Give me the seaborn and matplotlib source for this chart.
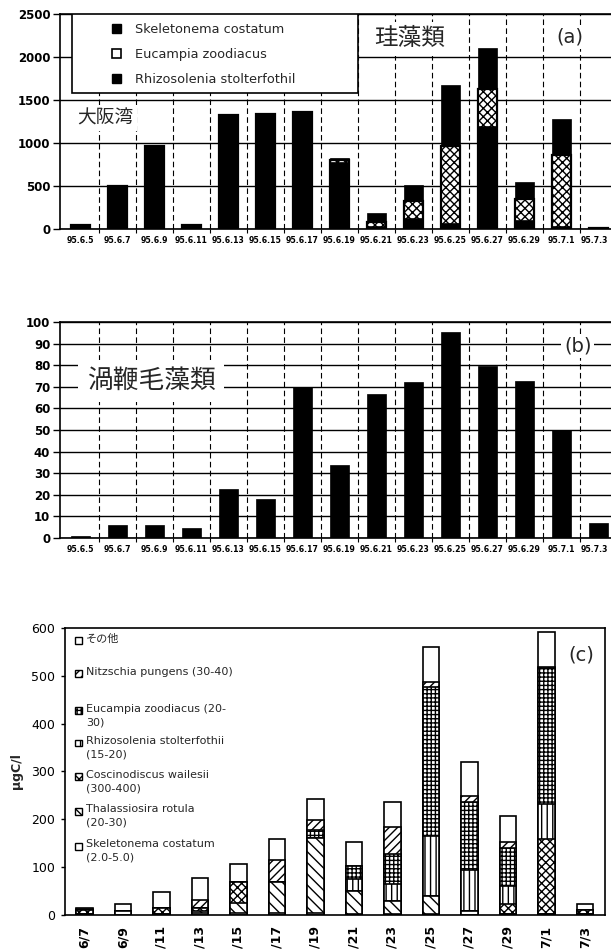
import numpy as np
import pandas as pd
import matplotlib
matplotlib.use("Agg")
import matplotlib.pyplot as plt
from matplotlib.patches import Patch, Rectangle
from matplotlib.transforms import ScaledTranslation
import seaborn as sns

# ---------------------------------------------------------------- data
dates_ab = ["95.6.5", "95.6.7", "95.6.9", "95.6.11", "95.6.13", "95.6.15",
            "95.6.17", "95.6.19", "95.6.21", "95.6.23", "95.6.25", "95.6.27",
            "95.6.29", "95.7.1", "95.7.3"]

# (a) diatom cell counts, stacked bottom -> top
diatom_skeletonema = [43, 496, 969, 43, 1329, 1337, 1357, 775, 39, 128, 70, 1202, 108, 31, 8]
diatom_eucampia = [0, 0, 0, 0, 0, 0, 0, 25, 39, 194, 891, 426, 241, 833, 0]
diatom_rhizosolenia = [0, 0, 0, 0, 0, 0, 0, 22, 108, 190, 717, 477, 194, 415, 0]

# (b) dinoflagellates
dinoflagellates = [1.1, 6.2, 6.2, 4.8, 22.8, 18.2, 70, 33.6, 66.5, 72.4, 95.4, 79.8, 72.8, 49.8, 6.9]

# (c) carbon biomass (ugC/l) by species, stacked bottom -> top
dates_c = ["6/7", "6/9", "/11", "/13", "/15", "/17", "/19", "/21",
           "/23", "/25", "/27", "/29", "7/1", "7/3"]
carbon_skeletonema = [3, 8, 3, 4, 5, 5, 5, 3, 3, 2, 9, 2, 2, 3]
carbon_thalassiosira = [0, 0, 0, 4, 20, 63, 155, 48, 27, 38, 0, 0, 0, 0]
carbon_coscinodiscus = [7, 0, 12, 6, 43, 0, 0, 0, 0, 0, 0, 20, 157, 8]
carbon_rhizosolenia = [0, 0, 0, 0, 0, 0, 0, 24, 35, 126, 84, 38, 73, 0]
carbon_eucampia = [0, 0, 0, 0, 0, 0, 18, 28, 63, 310, 144, 80, 284, 0]
carbon_nitzschia = [2, 0, 0, 17, 0, 47, 21, 0, 55, 10, 12, 12, 3, 0]
carbon_other = [2, 14, 32, 47, 39, 43, 43, 49, 54, 74, 70, 55, 73, 11]

legend_a = ["Skeletonema costatum", "Eucampia zoodiacus", "Rhizosolenia stolterfothil"]
legend_c = ["その他", "Nitzschia pungens (30-40)", "Eucampia zoodiacus (20-\n30)",
            "Rhizosolenia stolterfothii\n(15-20)", "Coscinodiscus wailesii\n(300-400)",
            "Thalassiosira rotula\n(20-30)", "Skeletonema costatum\n(2.0-5.0)"]

# ---------------------------------------------------------------- style
sns.set_style("ticks")
plt.rcParams["font.family"] = ["DejaVu Sans", "Noto Sans CJK JP"]
plt.rcParams["hatch.linewidth"] = 1.0
plt.rcParams["axes.linewidth"] = 1.2
plt.rcParams["axes.edgecolor"] = "black"
plt.rcParams["xtick.color"] = "black"
plt.rcParams["ytick.color"] = "black"

CJK = ["Noto Sans CJK JP", "DejaVu Sans"]

fig = plt.figure(figsize=(6.11, 9.51), dpi=100)
fig.patch.set_facecolor("white")


def stacked_bars(ax, categories, layers, styles, width):
    """Stack layers by overdrawing cumulative totals, tallest first."""
    cum = np.cumsum(np.asarray(layers, dtype=float), axis=0)
    for level in range(len(layers) - 1, -1, -1):
        df = pd.DataFrame({"date": categories, "value": cum[level]})
        sns.barplot(data=df, x="date", y="value", order=categories, ax=ax,
                    width=width, errorbar=None, saturation=1, **styles[level])
    ax.set_xlabel("")
    ax.set_ylabel("")


def grid_frame(ax, n, ymax, ystep):
    ax.set_xlim(-0.55, n - 0.45)
    ax.set_ylim(0, ymax)
    ax.set_yticks(np.arange(0, ymax + 1, ystep))
    ax.set_xticks(np.arange(n) + 0.5, minor=True)
    ax.set_axisbelow(True)
    ax.yaxis.grid(True, color="black", lw=1.0)
    ax.xaxis.grid(True, which="minor", color="black", lw=0.8, ls=(0, (5, 3)))
    ax.xaxis.grid(False, which="major")
    for s in ax.spines.values():
        s.set_visible(True)
        s.set_color("black")
    ax.tick_params(axis="y", length=5, width=1, direction="out", pad=2,
                   labelsize=8.5)
    ax.tick_params(axis="x", which="major", length=0, pad=5, labelsize=5.6)
    ax.tick_params(axis="x", which="minor", length=3, width=0.8, direction="out")
    for t in ax.get_yticklabels() + ax.get_xticklabels():
        t.set_fontweight("bold")
    # the last date sits against the right edge of the page
    last = ax.get_xticklabels()[-1]
    last.set_transform(last.get_transform()
                       + ScaledTranslation(-3 / 72, 0, fig.dpi_scale_trans))


# ---------------------------------------------------------------- (a)
axa = fig.add_axes([0.0982, 0.7592, 0.9144, 0.2261])
styles_a = [
    dict(color="black", edgecolor="black", linewidth=0.5),
    dict(color="white", edgecolor="black", linewidth=1.6, hatch="xxxx"),
    dict(color="black", edgecolor="black", linewidth=0.5),
]
stacked_bars(axa, dates_ab,
             [diatom_skeletonema, diatom_eucampia, diatom_rhizosolenia],
             styles_a, 0.51)
grid_frame(axa, len(dates_ab), 2500, 500)

axa.add_patch(Rectangle((0.0215, 0.633), 0.512, 0.367, transform=axa.transAxes,
                        facecolor="white", edgecolor="black", lw=1.2, zorder=4))
handles_a = [Patch(facecolor="black", edgecolor="black"),
             Patch(facecolor="white", edgecolor="black", lw=1.2),
             Patch(facecolor="black", edgecolor="black")]
leg = axa.legend(handles_a, legend_a, loc="upper left",
                 bbox_to_anchor=(0.093, 0.96), frameon=False, borderpad=0,
                 borderaxespad=0, fontsize=9.3, handlelength=0.7,
                 handleheight=0.7, handletextpad=1.1, labelspacing=0.95)
leg.set_zorder(5)

axa.text(0.626, 0.884, "珪藻類", transform=axa.transAxes, family=CJK,
         fontsize=17, ha="center", va="center", zorder=5,
         bbox=dict(facecolor="white", edgecolor="none", pad=4))
axa.text(0.912, 0.893, "(a)", transform=axa.transAxes, fontsize=14,
         ha="center", va="center", zorder=5,
         bbox=dict(facecolor="white", edgecolor="none", pad=2))
axa.text(0.082, 0.516, "大阪湾", transform=axa.transAxes, family=CJK,
         fontsize=13.5, ha="center", va="center", zorder=5,
         bbox=dict(facecolor="white", edgecolor="none", pad=2))

# ---------------------------------------------------------------- (b)
axb = fig.add_axes([0.0982, 0.4343, 0.9144, 0.2271])
df_b = pd.DataFrame({"date": dates_ab, "value": dinoflagellates})
sns.barplot(data=df_b, x="date", y="value", order=dates_ab, ax=axb, width=0.51,
            errorbar=None, saturation=1, color="black", edgecolor="black",
            linewidth=0.5)
axb.set_xlabel("")
axb.set_ylabel("")
grid_frame(axb, len(dates_ab), 100, 10)

axb.text(0.163, 0.727, "渦鞭毛藻類", transform=axb.transAxes, family=CJK,
         fontsize=18.5, ha="center", va="center", zorder=5,
         bbox=dict(facecolor="white", edgecolor="none", pad=6))
axb.text(0.927, 0.889, "(b)", transform=axb.transAxes, fontsize=14,
         ha="center", va="center", zorder=5,
         bbox=dict(facecolor="white", edgecolor="none", pad=2))

# ---------------------------------------------------------------- (c)
axc = fig.add_axes([0.1064, 0.0379, 0.8838, 0.3018])
styles_c = [
    dict(color="white", edgecolor="black", linewidth=1.2),
    dict(color="white", edgecolor="black", linewidth=1.2, hatch="\\\\\\"),
    dict(color="white", edgecolor="black", linewidth=1.2, hatch="xxxx"),
    dict(color="white", edgecolor="black", linewidth=1.2, hatch="|||"),
    dict(color="white", edgecolor="black", linewidth=1.2, hatch="++++"),
    dict(color="white", edgecolor="black", linewidth=1.2, hatch="////"),
    dict(color="white", edgecolor="black", linewidth=1.2),
]
layers_c = [carbon_skeletonema, carbon_thalassiosira, carbon_coscinodiscus,
            carbon_rhizosolenia, carbon_eucampia, carbon_nitzschia, carbon_other]
stacked_bars(axc, dates_c, layers_c, styles_c, 0.44)
axc.set_xlim(-0.506, len(dates_c) - 0.48)
axc.set_ylim(0, 600)
axc.set_yticks(np.arange(0, 601, 100))
for s in axc.spines.values():
    s.set_visible(True)
    s.set_color("black")
axc.tick_params(axis="y", length=3, width=1, direction="out", pad=4, labelsize=9)
axc.tick_params(axis="x", length=0, pad=8, labelsize=9)
for t in axc.get_xticklabels():
    t.set_rotation(90)
    t.set_fontweight("bold")
    t.set_va("top")
    t.set_ha("center")
axc.set_ylabel("μgC/l", fontsize=9, fontweight="bold", labelpad=6)

# legend keys, listed top to bottom
row_y = [0.955, 0.840, 0.711, 0.599, 0.481, 0.362, 0.240]
for label, st, y in zip(legend_c, styles_c[::-1], row_y):
    axc.add_patch(Rectangle((0.018, y - 0.012), 0.013, 0.024,
                            transform=axc.transAxes, facecolor="white",
                            edgecolor="black", lw=1.0,
                            hatch=st.get("hatch"), zorder=5))
    axc.text(0.039, y + 0.024, label, transform=axc.transAxes, fontsize=8,
             ha="left", va="top", linespacing=1.45, zorder=5)

axc.text(0.957, 0.906, "(c)", transform=axc.transAxes, fontsize=14,
         ha="center", va="center", zorder=5)

fig.savefig("out.png", dpi=100, facecolor="white")
